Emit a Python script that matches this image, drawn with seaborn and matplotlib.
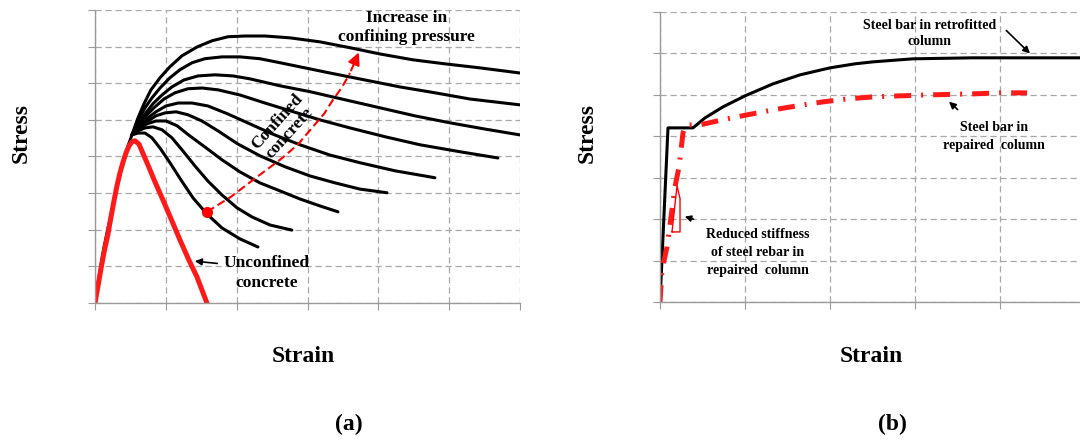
import seaborn as sns
import matplotlib.pyplot as plt

# ---- panel (a): concrete stress-strain (strain x1e-3, stress MPa) ----
rise_x = [0, 0.21, 0.42, 0.64, 0.92, 1.20, 1.48, 1.76, 2.05, 2.33, 2.61]
rise_y = [0, 5.5, 10.4, 15.3, 20.5, 25.4, 30.3, 35.0, 39.1, 42.9, 45.9]

unconf_x = [0, 0.21, 0.42, 0.64, 0.92, 1.13, 1.34, 1.55, 1.76, 1.98, 2.19, 2.40, 2.61, 2.82,
            3.10, 3.67, 4.23, 4.80, 5.43, 6.00, 6.63, 7.20, 7.90]
unconf_y = [0, 4.6, 9.3, 13.9, 18.9, 23.5, 27.9, 32.0, 35.5, 38.5, 41.0, 42.9, 44.0, 44.3,
            43.4, 38.3, 33.1, 28.1, 22.4, 17.2, 11.7, 7.1, 0]

conf_x = [
    [2.61, 3.03, 3.46, 3.95, 4.59, 5.29, 6.14, 7.20, 8.26, 9.39, 10.59, 12.00, 13.76,
     15.88, 18.00, 20.11, 22.44, 24.70, 27.17, 29.99],
    [2.61, 3.03, 3.53, 4.02, 4.59, 5.29, 6.00, 6.85, 7.76, 8.96, 10.23, 11.64, 13.06,
     14.82, 16.58, 19.05, 21.52, 23.99, 26.46, 29.99],
    [2.61, 3.03, 3.53, 4.09, 4.73, 5.43, 6.28, 7.27, 8.47, 9.74, 10.94, 13.06, 15.17,
     17.64, 20.11, 22.58, 25.05, 27.52, 29.99],
    [2.61, 3.03, 3.53, 4.16, 4.87, 5.65, 6.56, 7.55, 8.68, 10.23, 12.00, 13.76, 15.88,
     18.00, 20.47, 22.94, 25.76, 28.44],
    [2.61, 3.10, 3.67, 4.30, 5.01, 5.86, 6.85, 7.97, 9.39, 10.94, 12.49, 14.47, 16.58,
     18.70, 21.17, 23.99],
    [2.61, 3.10, 3.67, 4.30, 4.94, 5.72, 6.56, 7.55, 8.68, 10.09, 11.64, 13.41, 15.17,
     16.94, 18.70, 20.61],
    [2.61, 3.10, 3.67, 4.30, 5.01, 5.79, 6.70, 7.76, 8.96, 10.23, 11.64, 13.06, 14.47,
     15.88, 17.15],
    [2.61, 3.03, 3.53, 4.09, 4.73, 5.43, 6.21, 7.06, 7.97, 8.96, 10.02, 11.08, 12.35, 13.90],
    [2.61, 3.03, 3.53, 4.02, 4.59, 5.29, 6.07, 6.92, 7.90, 8.96, 10.23, 11.50],
]
conf_y = [
    [45.9, 50.5, 54.4, 58.2, 61.5, 64.5, 67.5, 69.9, 71.6, 72.7, 72.9, 72.9, 72.4,
     71.3, 69.7, 68.0, 66.4, 65.3, 64.2, 62.8],
    [45.9, 49.7, 53.3, 56.0, 58.7, 61.5, 63.7, 65.6, 66.7, 67.2, 67.2, 66.7, 65.6,
     64.2, 62.8, 60.9, 59.0, 57.4, 55.7, 54.1],
    [45.9, 48.9, 51.6, 54.4, 56.8, 59.0, 60.9, 62.0, 62.3, 62.0, 61.2, 59.3, 57.7,
     55.5, 53.3, 51.1, 49.2, 47.5, 45.9],
    [45.9, 48.4, 50.8, 53.3, 55.7, 57.4, 58.5, 58.7, 58.2, 56.8, 54.6, 52.5, 50.0,
     47.8, 45.4, 43.2, 41.3, 39.6],
    [45.9, 48.1, 50.3, 52.2, 53.8, 54.6, 54.6, 53.8, 51.6, 48.9, 46.2, 43.2, 40.4,
     38.3, 36.1, 34.2],
    [45.9, 47.8, 49.5, 51.1, 51.9, 52.2, 51.4, 49.7, 47.0, 43.4, 40.2, 37.2, 34.7,
     32.8, 31.1, 30.1],
    [45.9, 47.5, 48.9, 49.7, 49.7, 48.4, 45.6, 42.6, 39.1, 35.8, 32.8, 30.6, 28.4,
     26.5, 24.9],
    [45.9, 47.0, 47.8, 48.1, 47.3, 45.1, 41.5, 37.4, 33.3, 29.5, 26.0, 23.5, 21.3, 19.9],
    [45.9, 46.4, 46.4, 45.1, 42.3, 38.3, 33.6, 28.7, 24.3, 20.5, 17.5, 15.3],
]

trend_x = [7.90, 9.60, 11.15, 13.06, 14.30, 15.38, 16.20, 16.80, 17.45, 18.00, 18.70]
trend_y = [24.9, 29.0, 33.6, 39.1, 43.2, 48.1, 51.8, 55.5, 59.0, 62.8, 69.1]

# ---- panel (b): steel bar stress-strain (strain x1e-3, stress MPa) ----
retro_x = [0, 1.88, 7.76, 10.59, 14.82, 20.0, 26.59, 32.94, 40.0, 45.88, 50.12, 59.53,
           73.65, 98.8]
retro_y = [0, 420.3, 420.3, 444.4, 471.0, 497.6, 526.6, 548.3, 565.2, 574.9, 579.7, 587.0,
           589.4, 589.4]

repair_x = [0, 0.47, 1.65, 3.53, 4.47, 5.41, 6.12, 9.41, 14.59, 20.47, 26.59,
            32.24, 38.35, 44.24, 50.12, 56.47, 63.53, 73.65, 80.0, 86.35]
repair_y = [0, 77.3, 132.9, 277.8, 326.1, 408.2, 427.5, 427.5, 439.6, 451.7, 463.8,
            473.4, 483.1, 490.3, 495.2, 497.6, 500.0, 502.4, 504.8, 504.8]

stiff_x = [2.82, 4.71, 4.71, 4.0, 2.82]
stiff_y = [169.1, 169.1, 250.0, 280.2, 169.1]

sns.set_style("white")
plt.rcParams["font.family"] = ["Liberation Serif", "DejaVu Serif"]
plt.rcParams["font.weight"] = "bold"
plt.rcParams["text.color"] = "black"

fig = plt.figure(figsize=(10.8, 4.4), dpi=100)
ax1 = fig.add_axes([95 / 1080, 137 / 440, 425 / 1080, 293 / 440])
ax2 = fig.add_axes([660 / 1080, 138 / 440, 420 / 1080, 290 / 440])


def curve(ax, xs, ys, **kw):
    sns.lineplot(x=xs, y=ys, ax=ax, sort=False, estimator=None, **kw)


def style_axes(ax, xticks, yticks, xlim, ylim):
    ax.set_xlim(*xlim)
    ax.set_ylim(*ylim)
    ax.set_xticks(xticks)
    ax.set_yticks(yticks)
    ax.set_xticklabels([])
    ax.set_yticklabels([])
    ax.grid(True, color="#a8a8a8", linestyle=(0, (5, 3)), linewidth=0.9)
    ax.set_axisbelow(True)
    for side in ["top", "right"]:
        ax.spines[side].set_visible(False)
    for side in ["left", "bottom"]:
        ax.spines[side].set_color("#9a9a9a")
        ax.spines[side].set_linewidth(1.0)
    ax.tick_params(length=5, color="#9a9a9a", direction="out", left=True, bottom=True)
    ax.set_xlabel("")
    ax.set_ylabel("")


# panel (a)
curve(ax1, rise_x, rise_y, color="black", lw=2.2)
for xs, ys in zip(conf_x, conf_y):
    curve(ax1, xs, ys, color="black", lw=2.2)
curve(ax1, unconf_x, unconf_y, color="#ff1a1a", lw=3.6)
curve(ax1, trend_x[:-1], trend_y[:-1], color="red", lw=1.5, linestyle=(0, (4, 2)))
ax1.plot(trend_x[0], trend_y[0], "o", color="red", ms=7)
ax1.annotate("", xy=(trend_x[-1], trend_y[-1]), xytext=(trend_x[-2], trend_y[-2]),
             arrowprops=dict(arrowstyle="-|>", color="red", lw=1.5, mutation_scale=18))
style_axes(ax1, range(0, 31, 5), range(0, 81, 10), (0, 30), (0, 80))

ax1.text(22.0, 75.2, "Increase in\nconfining pressure", ha="center", va="center",
         fontsize=12.5, fontweight="bold", linespacing=1.3)
ax1.text(13.3, 48.0, "Confined\nconcrete", ha="center", va="center", rotation=48,
         fontsize=12.5, fontweight="bold", linespacing=1.1, rotation_mode="anchor")
ax1.annotate("Unconfined\nconcrete", xy=(6.85, 11.5), xytext=(12.1, 8.2),
             ha="center", va="center", fontsize=12.5, fontweight="bold", linespacing=1.3,
             arrowprops=dict(arrowstyle="-|>", color="black", lw=1.2,
                             relpos=(0, 0.75), mutation_scale=10))

# panel (b)
curve(ax2, retro_x, retro_y, color="black", lw=2.2)
curve(ax2, repair_x, repair_y, color="#ff1a1a", lw=3.6,
      linestyle=(0, (3.4, 2.0, 0.4, 2.0)))
curve(ax2, stiff_x, stiff_y, color="red", lw=1.0)
style_axes(ax2, range(0, 100, 20), range(0, 701, 100), (0, 98.8), (0, 700))

ax2.text(63.5, 648, "Steel bar in retrofitted\ncolumn", ha="center", va="center",
         fontsize=10, fontweight="bold", linespacing=1.3)
ax2.annotate("", xy=(87.5, 595), xytext=(81, 660),
             arrowprops=dict(arrowstyle="-|>", color="black", lw=1.2, mutation_scale=10))
ax2.text(78.6, 399, "Steel bar in\nrepaired  column", ha="center", va="center",
         fontsize=10, fontweight="bold", linespacing=1.45)
ax2.annotate("", xy=(67.5, 488), xytext=(70.5, 460),
             arrowprops=dict(arrowstyle="-|>", color="black", lw=1.2, mutation_scale=10))
ax2.text(23.0, 120, "Reduced stiffness\nof steel rebar in\nrepaired  column",
         ha="center", va="center", fontsize=10, fontweight="bold", linespacing=1.5)
ax2.annotate("", xy=(5.2, 208), xytext=(8.5, 198),
             arrowprops=dict(arrowstyle="-|>", color="black", lw=1.2, mutation_scale=9))

# axis titles and panel tags
fig.text(21 / 1080, 1 - 133 / 440, "Stress", rotation=90, ha="center", va="center",
         fontsize=17, fontweight="bold")
fig.text(303 / 1080, 1 - 356 / 440, "Strain", ha="center", va="center",
         fontsize=17, fontweight="bold")
fig.text(349 / 1080, 1 - 424 / 440, "(a)", ha="center", va="center",
         fontsize=17, fontweight="bold")
fig.text(587 / 1080, 1 - 133 / 440, "Stress", rotation=90, ha="center", va="center",
         fontsize=17, fontweight="bold")
fig.text(871 / 1080, 1 - 356 / 440, "Strain", ha="center", va="center",
         fontsize=17, fontweight="bold")
fig.text(892 / 1080, 1 - 424 / 440, "(b)", ha="center", va="center",
         fontsize=17, fontweight="bold")

fig.savefig("out.png", dpi=100)
